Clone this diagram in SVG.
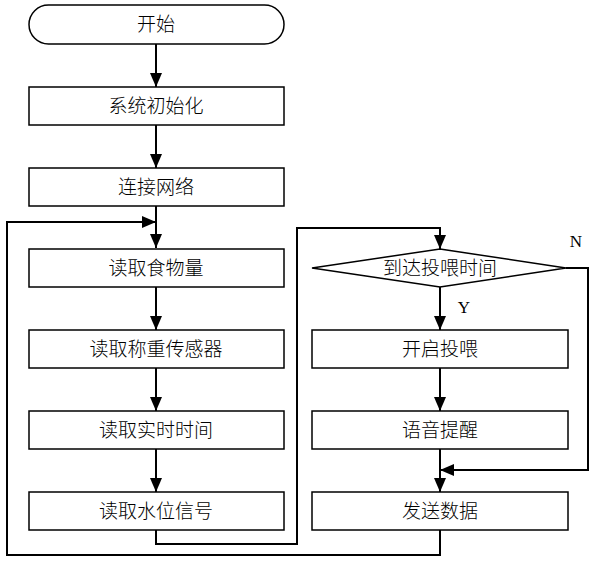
<svg xmlns="http://www.w3.org/2000/svg" width="612" height="566" viewBox="0 0 612 566">
<style>
.box{fill:#fff;stroke:#000;stroke-width:1.5}
.t{font-family:"Noto Sans CJK SC",sans-serif;font-size:19px;font-weight:300;fill:#000;text-anchor:middle;dominant-baseline:central}
.l{font-family:"Liberation Serif",serif;font-size:17px;fill:#000;text-anchor:middle;dominant-baseline:central}
.c{fill:none;stroke:#000;stroke-width:2}
</style>
<defs>
<marker id="ah" viewBox="0 0 14 12" refX="14" refY="6" markerWidth="14" markerHeight="12" markerUnits="userSpaceOnUse" orient="auto">
<path d="M0,0 L14,6 L0,12 Z" fill="#000"/>
</marker>
</defs>
<rect width="612" height="566" fill="#fff"/>
<g id="connectors">
<path class="c" d="M156,44 V87" marker-end="url(#ah)"/>
<path class="c" d="M156,125 V168" marker-end="url(#ah)"/>
<path class="c" d="M156,206 V248" marker-end="url(#ah)"/>
<path class="c" d="M156,287 V330" marker-end="url(#ah)"/>
<path class="c" d="M156,368 V411" marker-end="url(#ah)"/>
<path class="c" d="M156,449 V492" marker-end="url(#ah)"/>
<path class="c" d="M440,530 V555 H7 V222 H156" marker-end="url(#ah)"/>
<path class="c" d="M156,530 V544 H297 V228 H440 V249" marker-end="url(#ah)"/>
<path class="c" d="M440,287 V330" marker-end="url(#ah)"/>
<path class="c" d="M440,368 V411" marker-end="url(#ah)"/>
<path class="c" d="M440,449 V492" marker-end="url(#ah)"/>
<path class="c" d="M566,268 H588 V470 H440" marker-end="url(#ah)"/>
<text class="l" x="464" y="307">Y</text>
<text class="l" x="576" y="241">N</text>
</g>
<g id="start"><rect class="box" x="29" y="5" width="255" height="39" rx="19.5"/><text class="t" x="156" y="22.5">开始</text></g>
<g id="init"><rect class="box" x="29" y="87" width="255" height="38"/><text class="t" x="156" y="104">系统初始化</text></g>
<g id="net"><rect class="box" x="29" y="168" width="255" height="38"/><text class="t" x="156" y="185">连接网络</text></g>
<g id="food"><rect class="box" x="29" y="249" width="255" height="38"/><text class="t" x="156" y="266">读取食物量</text></g>
<g id="weight"><rect class="box" x="29" y="330" width="255" height="38"/><text class="t" x="156" y="347">读取称重传感器</text></g>
<g id="time"><rect class="box" x="29" y="411" width="255" height="38"/><text class="t" x="156" y="428">读取实时时间</text></g>
<g id="water"><rect class="box" x="29" y="492" width="255" height="38"/><text class="t" x="156" y="509">读取水位信号</text></g>
<g id="decision"><path class="box" d="M440,249 L566,268 L440,287 L312,268 Z"/><text class="t" x="440" y="266">到达投喂时间</text></g>
<g id="feed"><rect class="box" x="312" y="330" width="256" height="38"/><text class="t" x="440" y="347">开启投喂</text></g>
<g id="voice"><rect class="box" x="312" y="411" width="256" height="38"/><text class="t" x="440" y="428">语音提醒</text></g>
<g id="send"><rect class="box" x="312" y="492" width="256" height="38"/><text class="t" x="440" y="509">发送数据</text></g>
</svg>
